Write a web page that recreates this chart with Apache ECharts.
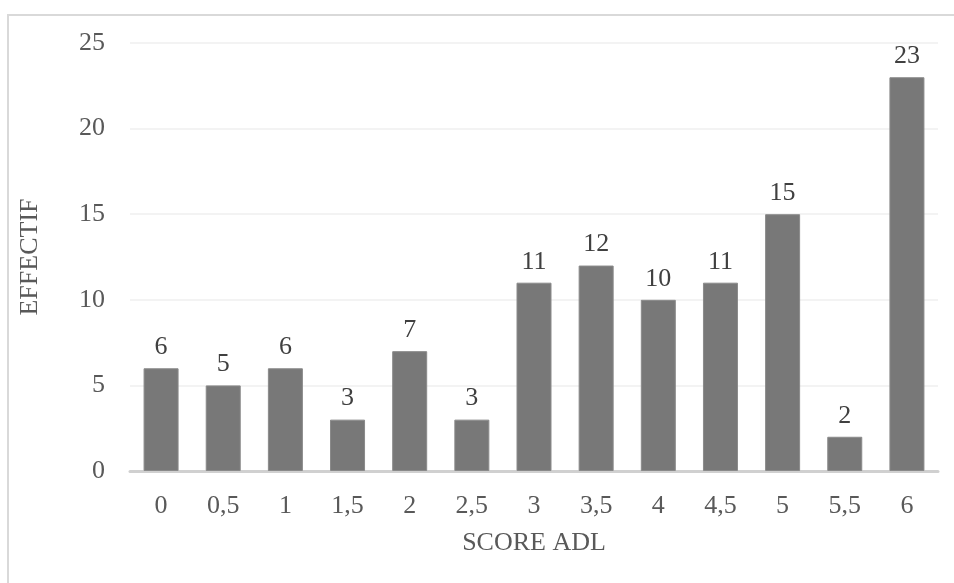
<!DOCTYPE html>
<html>
<head>
<meta charset="utf-8">
<script src="https://cdn.jsdelivr.net/npm/echarts@6/dist/echarts.min.js"></script>
<style>
  html, body { margin: 0; padding: 0; background: #fff; }
  #frame { position: absolute; left: 7px; top: 14px; width: 960px; height: 600px; border: 2px solid #d9d9d9; box-sizing: border-box; }
  #chart { position: absolute; left: 0; top: 0; width: 954px; height: 583px; }
</style>
</head>
<body>
<div id="frame"></div>
<div id="chart"></div>
<script>
var categories = ['0', '0,5', '1', '1,5', '2', '2,5', '3', '3,5', '4', '4,5', '5', '5,5', '6'];
var effectif = [6, 5, 6, 3, 7, 3, 11, 12, 10, 11, 15, 2, 23];
var yTicks = [0, 5, 10, 15, 20, 25];

var myChart = echarts.init(document.getElementById('chart'));
var fontName = '"Liberation Serif", "Times New Roman", serif';

option = {
    animation: false,
    grid: {
        left: 130,
        right: 16,
        top: 43,
        bottom: 112
    },
    xAxis: {
        type: 'category',
        data: categories,
        name: 'SCORE ADL',
        nameLocation: 'middle',
        nameGap: 59,
        nameTextStyle: { fontFamily: fontName, fontSize: 26, color: '#595959' },
        axisLine: { lineStyle: { color: '#d0d0d0', width: 3 } },
        axisTick: { show: false },
        axisLabel: { fontFamily: fontName, fontSize: 26, color: '#595959', margin: 22 }
    },
    yAxis: {
        type: 'value',
        min: yTicks[0],
        max: yTicks[yTicks.length - 1],
        interval: 5,
        name: 'EFFECTIF',
        nameLocation: 'middle',
        nameGap: 87,
        nameTextStyle: { fontFamily: fontName, fontSize: 26, color: '#595959' },
        axisLine: { show: false },
        axisTick: { show: false },
        splitLine: { lineStyle: { color: '#efefef', width: 1.5 } },
        axisLabel: { fontFamily: fontName, fontSize: 26, color: '#595959', margin: 25 }
    },
    series: [
        {
            type: 'bar',
            data: effectif,
            barWidth: 35,
            itemStyle: { color: '#787878', borderColor: '#8a8a8a', borderWidth: 1 },
            label: {
                show: true,
                position: 'top',
                distance: 8,
                fontFamily: fontName,
                fontSize: 26,
                color: '#404040'
            }
        }
    ]
};
myChart.setOption(option, true);
</script>
</body>
</html>
